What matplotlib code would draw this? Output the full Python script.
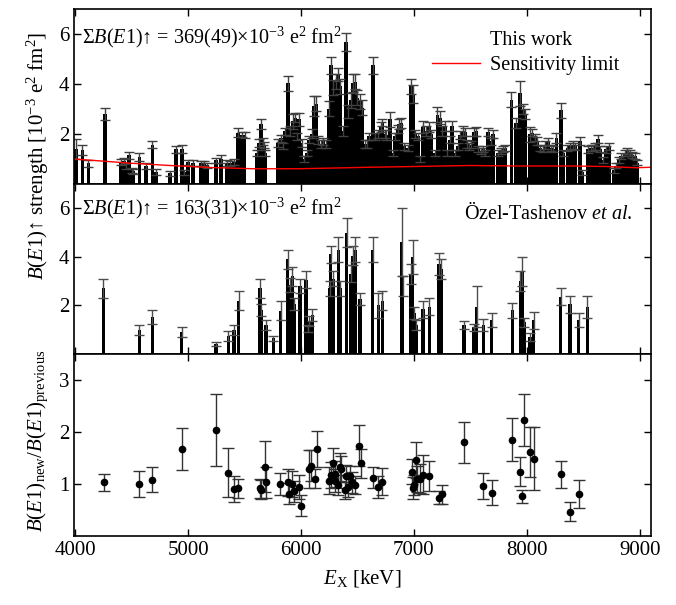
import matplotlib
matplotlib.use("Agg")
import matplotlib.pyplot as plt
from matplotlib.lines import Line2D

plt.rcParams['font.family'] = ['Liberation Serif', 'DejaVu Serif']
plt.rcParams['mathtext.fontset'] = 'custom'
plt.rcParams['mathtext.rm'] = 'Liberation Serif'
plt.rcParams['mathtext.it'] = 'Liberation Serif:italic'
plt.rcParams['mathtext.bf'] = 'Liberation Serif:bold'

# Dados: este trabalho (painel de cima)
e_work = [4006, 4065, 4118, 4263, 4404, 4430, 4450, 4478, 4500, 4515, 4570, 4625, 4685, 4715,
          4838, 4897, 4944, 4968, 5000, 5044, 5112, 5140, 5165, 5245, 5290, 5348, 5370, 5407,
          5445, 5475, 5500, 5608, 5631, 5646, 5660, 5672, 5685, 5800, 5820, 5840, 5860, 5882,
          5902, 5926, 5947, 5965, 5985, 6005, 6030, 6050, 6073, 6095, 6118, 6135, 6155, 6175,
          6195, 6220, 6250, 6265, 6285, 6307, 6330, 6350, 6372, 6398, 6420, 6440, 6463, 6480,
          6500, 6522, 6542, 6567, 6585, 6602, 6640, 6660, 6680, 6705, 6722, 6742, 6757, 6788,
          6815, 6835, 6855, 6870, 6890, 6910, 6950, 6973, 6995, 7012, 7035, 7058, 7082, 7104,
          7133, 7153, 7183, 7209, 7232, 7252, 7274, 7297, 7318, 7339, 7362, 7391, 7412, 7431,
          7452, 7472, 7490, 7510, 7530, 7548, 7568, 7592, 7612, 7632, 7658, 7680, 7700, 7746,
          7770, 7790, 7805, 7864, 7903, 7938, 7968, 7988, 8027, 8050, 8071, 8091, 8115, 8144,
          8165, 8189, 8212, 8233, 8263, 8301, 8322, 8360, 8381, 8410, 8431, 8469, 8490, 8543,
          8566, 8587, 8607, 8631, 8652, 8675, 8705, 8726, 8773, 8793, 8814, 8838, 8867, 8888,
          8911, 8931, 8955, 8979]
b_work = [1.38, 1.34, 0.82, 2.80, 0.87, 0.90, 0.70, 1.14, 0.55, 0.50, 1.08, 0.73, 1.57, 0.46,
          0.43, 1.38, 1.40, 0.46, 0.86, 0.83, 0.83, 0.83, 0.75, 0.95, 1.00, 0.85, 0.82, 0.88,
          2.05, 1.97, 1.95, 1.24, 1.64, 2.41, 1.70, 1.55, 1.25, 1.64, 1.82, 1.50, 2.10, 4.03,
          2.10, 2.50, 2.64, 1.90, 2.58, 1.64, 1.00, 1.25, 1.77, 2.00, 3.10, 3.20, 1.75, 1.60,
          1.70, 1.60, 3.00, 4.75, 3.85, 4.10, 4.38, 3.90, 2.10, 5.68, 2.90, 3.35, 4.03, 4.10,
          3.45, 3.30, 3.05, 1.60, 1.60, 1.90, 4.75, 1.90, 2.00, 2.27, 2.45, 2.00, 1.95, 2.58,
          1.25, 1.90, 2.20, 2.40, 2.45, 1.50, 1.43, 3.90, 3.60, 2.00, 1.90, 1.00, 2.27, 2.10,
          2.27, 2.00, 1.25, 2.77, 2.65, 2.10, 2.33, 1.25, 1.77, 2.33, 1.25, 1.50, 1.95, 2.13,
          2.07, 1.60, 1.50, 1.57, 2.07, 2.10, 1.40, 1.30, 1.40, 1.25, 2.07, 1.70, 2.00, 1.25,
          1.30, 1.40, 1.45, 3.36, 2.42, 3.63, 3.00, 2.80, 1.98, 2.05, 1.85, 1.72, 1.45, 1.40,
          1.55, 1.70, 1.45, 1.40, 1.85, 2.94, 1.25, 1.45, 1.50, 1.55, 1.50, 1.72, 0.47, 1.38,
          1.45, 1.45, 1.50, 1.80, 1.38, 0.97, 1.38, 1.50, 0.54, 0.73, 0.97, 1.10, 1.25, 1.30,
          1.25, 1.17, 1.10, 0.85]
err_work = [0.40, 0.20, 0.15, 0.25, 0.13, 0.12, 0.12, 0.15, 0.10, 0.10, 0.15, 0.12, 0.15, 0.12,
            0.10, 0.15, 0.15, 0.10, 0.10, 0.12, 0.10, 0.10, 0.10, 0.10, 0.15, 0.12, 0.10, 0.12,
            0.18, 0.10, 0.12, 0.12, 0.15, 0.20, 0.15, 0.12, 0.12, 0.15, 0.15, 0.12, 0.15, 0.30,
            0.20, 0.30, 0.18, 0.15, 0.25, 0.15, 0.12, 0.12, 0.15, 0.18, 0.40, 0.30, 0.15, 0.15,
            0.15, 0.15, 0.30, 0.35, 0.30, 0.30, 0.25, 0.30, 0.20, 0.35, 0.25, 0.30, 0.35, 0.30,
            0.30, 0.30, 0.30, 0.15, 0.15, 0.15, 0.35, 0.15, 0.15, 0.20, 0.15, 0.15, 0.20, 0.30,
            0.12, 0.15, 0.15, 0.20, 0.20, 0.15, 0.12, 0.30, 0.35, 0.15, 0.15, 0.12, 0.25, 0.20,
            0.20, 0.15, 0.12, 0.30, 0.25, 0.20, 0.20, 0.12, 0.15, 0.20, 0.12, 0.15, 0.15, 0.20,
            0.15, 0.15, 0.15, 0.15, 0.15, 0.18, 0.12, 0.12, 0.12, 0.12, 0.15, 0.15, 0.15, 0.12,
            0.12, 0.12, 0.12, 0.30, 0.20, 0.50, 0.20, 0.20, 0.30, 0.15, 0.15, 0.15, 0.12, 0.12,
            0.15, 0.15, 0.12, 0.12, 0.20, 0.30, 0.12, 0.12, 0.15, 0.15, 0.15, 0.15, 0.10, 0.15,
            0.12, 0.12, 0.15, 0.15, 0.12, 0.12, 0.15, 0.15, 0.10, 0.10, 0.12, 0.12, 0.12, 0.12,
            0.12, 0.12, 0.12, 0.10]

# Limite de sensibilidade
e_sens = [3990, 4200, 4500, 4840, 5200, 5575, 5977, 6300, 6611, 7000, 7496, 7938, 8381, 8700, 8971, 9100]
b_sens = [1.00, 0.93, 0.83, 0.74, 0.66, 0.61, 0.61, 0.64, 0.67, 0.70, 0.74, 0.72, 0.72, 0.70, 0.65, 0.67]

# Dados anteriores (Özel-Tashenov et al.)
e_prev = [4250, 4569, 4684, 4944, 5248, 5357, 5407, 5448, 5637, 5650, 5690, 5755, 5820, 5882,
          5900, 5923, 5940, 5991, 6044, 6060, 6075, 6100, 6257, 6262, 6285, 6330, 6350, 6404,
          6440, 6462, 6482, 6522, 6634, 6684, 6720, 6891, 6900, 6975, 6988, 7000, 7020, 7082,
          7137, 7224, 7240, 7445, 7531, 7555, 7614, 7688, 7873, 7944, 7959, 7975, 8027, 8062,
          8301, 8381, 8460, 8537]
b_prev = [2.70, 1.00, 1.52, 0.91, 0.42, 0.73, 1.00, 2.20, 2.70, 1.80, 1.20, 0.65, 1.78, 3.90,
          2.85, 3.20, 2.05, 2.80, 3.05, 1.05, 1.35, 1.60, 2.70, 4.10, 3.10, 4.30, 2.70, 5.00,
          3.30, 4.05, 4.30, 2.25, 4.30, 2.00, 2.20, 4.60, 2.80, 3.30, 4.00, 1.70, 1.20, 1.85,
          1.95, 3.70, 3.50, 1.20, 1.10, 1.95, 1.20, 1.40, 1.80, 3.00, 3.40, 1.30, 0.70, 1.40,
          2.35, 2.05, 1.40, 1.95]
err_prev = [0.40, 0.20, 0.28, 0.21, 0.08, 0.20, 0.20, 0.40, 0.40, 0.25, 0.20, 0.10, 0.40, 0.40,
            0.30, 0.40, 0.25, 0.30, 0.35, 0.15, 0.20, 0.25, 0.30, 0.35, 0.30, 0.50, 0.30, 0.60,
            0.35, 0.40, 0.50, 0.25, 0.50, 0.50, 0.40, 1.40, 0.40, 0.40, 0.70, 0.25, 0.20, 0.35,
            0.35, 0.45, 0.40, 0.15, 0.15, 0.85, 0.25, 0.30, 0.30, 0.40, 0.60, 0.20, 0.15, 0.35,
            0.35, 0.35, 0.30, 0.45]

# Razão B(E1)new / B(E1)previous
e_ratio = [4260, 4569, 4684, 4944, 5245, 5354, 5410, 5445, 5637, 5645, 5684, 5690, 5814, 5882,
           5894, 5925, 5935, 5985, 5997, 6074, 6085, 6124, 6145, 6250, 6262, 6286, 6298, 6305,
           6325, 6345, 6357, 6389, 6400, 6418, 6430, 6450, 6478, 6513, 6531, 6634, 6684, 6720,
           6979, 6995, 7005, 7015, 7030, 7053, 7082, 7133, 7224, 7246, 7445, 7614, 7688, 7873,
           7944, 7959, 7976, 8027, 8062, 8301, 8381, 8460]
r_ratio = [1.03, 1.00, 1.08, 1.67, 2.04, 1.22, 0.90, 0.92, 0.92, 0.89, 1.33, 1.03, 1.00, 1.03,
           0.81, 1.00, 0.86, 0.94, 0.58, 1.29, 1.35, 1.10, 1.67, 1.06, 1.18, 1.40, 1.20, 1.06,
           0.98, 1.33, 1.28, 0.88, 1.15, 0.95, 1.15, 1.03, 0.98, 1.74, 1.40, 1.12, 0.94, 1.04,
           1.24, 0.92, 0.98, 1.46, 1.10, 1.10, 1.18, 1.16, 0.74, 0.80, 1.80, 0.96, 0.83, 1.85,
           1.24, 0.76, 2.23, 1.62, 1.49, 1.19, 0.47, 0.80]
err_ratio = [0.17, 0.25, 0.24, 0.41, 0.70, 0.47, 0.25, 0.18, 0.18, 0.18, 0.49, 0.30, 0.22, 0.26,
             0.20, 0.25, 0.20, 0.23, 0.20, 0.37, 0.30, 0.18, 0.34, 0.26, 0.25, 0.29, 0.25, 0.22,
             0.20, 0.27, 0.25, 0.16, 0.22, 0.20, 0.20, 0.20, 0.18, 0.39, 0.28, 0.20, 0.21, 0.26,
             0.24, 0.21, 0.20, 0.34, 0.25, 0.28, 0.37, 0.29, 0.13, 0.18, 0.40, 0.25, 0.24, 0.41,
             0.28, 0.13, 0.50, 0.48, 0.60, 0.26, 0.18, 0.27]

fig = plt.figure(figsize=(6.76, 6.05), dpi=100)
gs = fig.add_gridspec(3, 1, height_ratios=[175, 170, 182], hspace=0,
                      left=74/676, right=651/676, top=1-9/605, bottom=1-536/605)
ax1 = fig.add_subplot(gs[0])
ax2 = fig.add_subplot(gs[1], sharex=ax1)
ax3 = fig.add_subplot(gs[2], sharex=ax1)

for ax in (ax1, ax2, ax3):
    ax.tick_params(direction='in', top=True, right=True, length=5, width=1, labelsize=15)
    for s in ax.spines.values():
        s.set_linewidth(1.2)
    ax.set_xticks([4000, 5000, 6000, 7000, 8000, 9000])
ax1.tick_params(labelbottom=False)
ax2.tick_params(labelbottom=False)
ax1.set_xlim(3990, 9100)

# Painel de cima
ax1.bar(e_work, b_work, width=34, color='k', linewidth=0)
ax1.errorbar(e_work, b_work, yerr=err_work, fmt='none', ecolor='0.25',
             elinewidth=1, capsize=3.5, capthick=1)
ax1.plot(e_sens, b_sens, color='red', lw=1)
ax1.set_ylim(0, 7)
ax1.set_yticks([2, 4, 6])
ax1.text((82-74)/577, 1-(37-9)/175, 'Σ$\\mathit{B(E1)}$↑ = 369(49)×10$^{-3}$ e$^2$ fm$^2$',
         fontsize=14.5, transform=ax1.transAxes, va='center')
h1 = Line2D([], [], linestyle='none')
h2 = Line2D([], [], color='red', lw=1)
ax1.legend([h1, h2], ['This work', 'Sensitivity limit'], loc='upper right', frameon=False,
           fontsize=14.5, handlelength=2.4, handletextpad=0.5, borderaxespad=0.3,
           labelspacing=0.3, bbox_to_anchor=(0.97, 0.955))

# Painel do meio
ax2.bar(e_prev, b_prev, width=30, color='k', linewidth=0)
ax2.errorbar(e_prev, b_prev, yerr=err_prev, fmt='none', ecolor='0.3',
             elinewidth=1, capsize=3.5, capthick=1)
ax2.set_ylim(0, 7)
ax2.set_yticks([2, 4, 6])
ax2.text((82-74)/577, 1-(208-184)/170, 'Σ$\\mathit{B(E1)}$↑ = 163(31)×10$^{-3}$ e$^2$ fm$^2$',
         fontsize=14.5, transform=ax2.transAxes, va='center')
ax2.text((633-74)/577, 1-(213-184)/170, 'Özel-Tashenov $\\mathit{et\\ al.}$', fontsize=14.5,
         transform=ax2.transAxes, va='center', ha='right')

# Painel de baixo
ax3.errorbar(e_ratio, r_ratio, yerr=err_ratio, fmt='o', color='k', ms=4.5,
             ecolor='0.2', elinewidth=1, capsize=4, capthick=1)
ax3.set_ylim(0, 3.5)
ax3.set_yticks([1, 2, 3])
ax3.set_xlabel('$\\mathit{E}_{\\mathrm{X}}$ [keV]', fontsize=15, labelpad=6)

fig.text(38/676, 1-156/605, '$\\mathit{B(E1)}$↑ strength [10$^{-3}$ e$^2$ fm$^2$]',
         rotation=90, ha='center', va='center', fontsize=15)
fig.text(38/676, 1-441/605, '$\\mathit{B(E1)}_{\\mathrm{new}}/\\mathit{B(E1)}_{\\mathrm{previous}}$',
         rotation=90, ha='center', va='center', fontsize=15)

fig.savefig("out.png", dpi=100)
